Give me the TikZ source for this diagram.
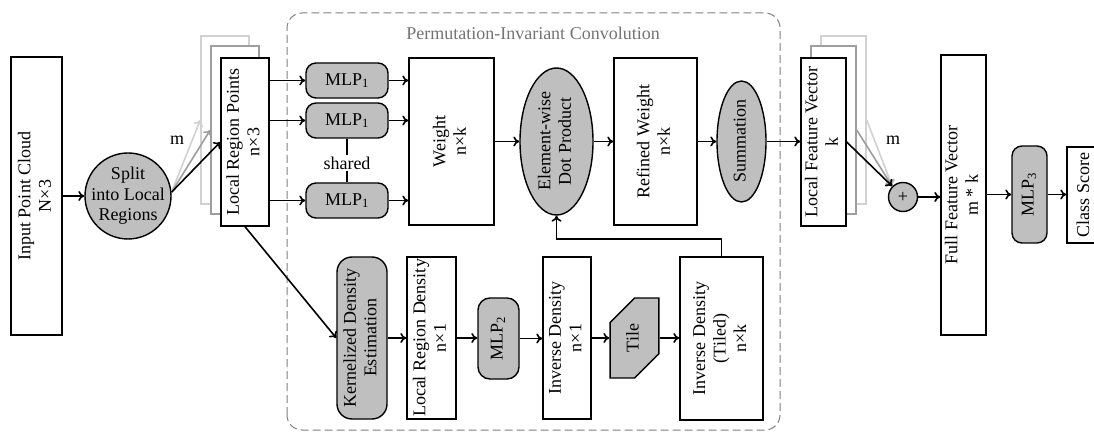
\documentclass[tikz,border=0pt]{standalone}
\usepackage{fontspec}
\setmainfont{Liberation Serif}
\usepackage{graphicx}
\usetikzlibrary{arrows.meta,shapes.geometric,shapes.misc}

\newcommand{\vtext}[1]{\rotatebox{90}{\begin{tabular}{@{}c@{}}#1\end{tabular}}}

\begin{document}
\begin{tikzpicture}[x=1pt,y=1pt,
    font=\fontsize{18}{20.5}\selectfont,
    box/.style={draw, line width=1.4pt, fill=white, inner sep=0pt},
    proc/.style={box, fill=black!25},
    mlp/.style={proc, rounded corners=10pt},
    arr/.style={-{To[length=6pt,width=10pt]}, line width=1.6pt},
    groupframe/.style={draw=black!50, dash pattern=on 8pt off 4pt, line width=1pt, rounded corners=15pt}]
    \useasboundingbox (0,0) rectangle (1094,434);

    \draw[groupframe] (287,4) rectangle (780,421);
    \node[text=black!55] (title) at (533,401) {Permutation-Invariant Convolution};

    \node[box, minimum width=51pt, minimum height=278pt] (ipc) at (36.5,238) {\vtext{Input Point Cloud\\N×3}};
    \node[proc, circle, minimum size=86pt, inner sep=-5pt] (split) at (128,238) {\begin{tabular}{@{}c@{}}Split\\into Local\\Regions\end{tabular}};

    \node[box, draw=black!18, minimum width=48pt, minimum height=168pt] (lrpc) at (225,314) {};
    \node[box, draw=black!38, minimum width=48pt, minimum height=168pt] (lrpb) at (235,304) {};
    \node[box, minimum width=48pt, minimum height=168pt] (lrp) at (245,292) {\vtext{Local Region Points\\n×3}};
    \node (mleft) at (177,294) {m};

    \node[mlp, minimum width=82pt, minimum height=35pt] (mlpa) at (347,353.5) {MLP\textsubscript{1}};
    \node[mlp, minimum width=82pt, minimum height=35pt] (mlpb) at (347,313.5) {MLP\textsubscript{1}};
    \node[mlp, minimum width=82pt, minimum height=35pt] (mlpc) at (347,233.5) {MLP\textsubscript{1}};
    \node[inner sep=1pt] (shared) at (347,271) {shared};

    \node[box, minimum width=85pt, minimum height=167pt] (weight) at (451.5,292.5) {\vtext{Weight\\n×k}};
    \node[proc, ellipse, minimum width=73pt, minimum height=147pt] (edp) at (556.5,292.5) {\vtext{Element-wise\\Dot Product}};
    \node[box, minimum width=83pt, minimum height=167pt] (refw) at (655.5,292.5) {\vtext{Refined Weight\\n×k}};
    \node[proc, ellipse, minimum width=49pt, minimum height=121pt] (summ) at (741.5,292.5) {\vtext{Summation}};

    \node[box, draw=black!18, minimum width=45pt, minimum height=168pt] (lfvc) at (843.5,314) {};
    \node[box, draw=black!38, minimum width=45pt, minimum height=168pt] (lfvb) at (833.5,304) {};
    \node[box, minimum width=45pt, minimum height=168pt] (lfv) at (823.5,292) {\vtext{Local Feature Vector\\k}};
    \node (mright) at (893,294) {m};
    \node[proc, circle, minimum size=29pt, font=\fontsize{18}{20}\selectfont] (plus) at (903,237) {+};

    \node[box, minimum width=45pt, minimum height=280pt] (ffv) at (963.5,239) {\vtext{Full Feature Vector\\m * k}};
    \node[mlp, minimum width=35pt, minimum height=97pt] (mlpd) at (1029.5,239.5) {\vtext{MLP\textsubscript{3}}};
    \node[box, minimum width=36pt, minimum height=96pt] (score) at (1085,239) {\vtext{Class Score}};

    \node[proc, rounded corners=15pt, minimum width=50pt, minimum height=162pt] (kde) at (362,96) {\vtext{Kernelized Density\\Estimation}};
    \node[box, minimum width=49pt, minimum height=162pt] (lrd) at (431.5,96) {\vtext{Local Region Density\\n×1}};
    \node[mlp, rounded corners=12pt, minimum width=41pt, minimum height=81pt] (mlpe) at (498.5,95.5) {\vtext{MLP\textsubscript{2}}};
    \node[box, minimum width=48pt, minimum height=162pt] (invd) at (567,96) {\vtext{Inverse Density\\n×1}};
    \node[proc, chamfered rectangle, chamfered rectangle corners={north west,south east}, chamfered rectangle sep=15pt, minimum width=45pt, minimum height=80pt] (tile) at (634.5,96) {\vtext{Tile}};
    \node[box, minimum width=83pt, minimum height=163pt] (invt) at (721.5,95.5) {\vtext{Inverse Density\\(Tiled)\\n×k}};

    \draw[arr] (ipc) -- (split);
    \draw[arr, draw=black!18] (split.5) -- (lrpc.west);
    \draw[arr, draw=black!38] (split.5) -- (lrpb.west);
    \draw[arr] (split.5) -- (lrp.west);
    \foreach \m in {mlpa,mlpb,mlpc} {
        \draw[arr] (lrp.east |- \m) -- (\m.west);
        \draw[arr] (\m.east) -- (\m.east -| weight.west);
    }
    \draw[line width=1.4pt] (mlpb) -- (shared) -- (mlpc);
    \foreach \a/\b in {weight/edp,edp/refw,refw/summ,summ/lfv}
        \draw[arr] (\a.east) -- (\a.east -| \b.west);
    \draw[arr, draw=black!18] (lfvc.east) -- (plus.135);
    \draw[arr, draw=black!38] (lfvb.east) -- (plus.135);
    \draw[arr] (lfv.east) -- (plus.135);
    \draw[arr] (plus.east) -- (plus.east -| ffv.west);
    \draw[arr] (ffv.east |- mlpd) -- (mlpd.west);
    \draw[arr] (mlpd.east) -- (mlpd.east -| score.west);

    \draw[arr] (lrp.south) -- (kde.west);
    \foreach \a/\b in {kde/lrd,lrd/mlpe,mlpe/invd,invd/tile,tile/invt}
        \draw[arr] (\a.east) -- (\a.east -| \b.west);
    \draw[arr] (invt.north) -- ++(0,17) -| (edp.south);
\end{tikzpicture}
\end{document}
